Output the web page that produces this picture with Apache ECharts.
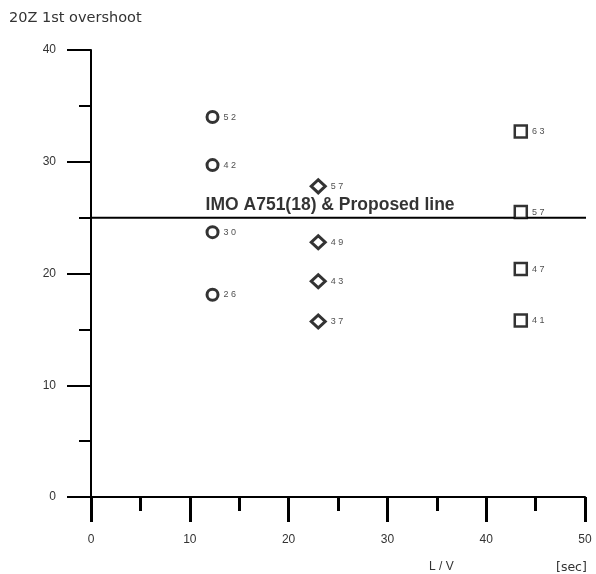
<!DOCTYPE html>
<html>
<head>
<meta charset="utf-8">
<script src="https://cdn.jsdelivr.net/npm/echarts@6/dist/echarts.min.js"></script>
<style>html,body{margin:0;padding:0;background:#fff}#c{width:596px;height:574px}</style>
</head>
<body>
<div id="c"></div>
<script>
// Data
var circleX = [12.3, 12.3, 12.3, 12.3];
var circleY = [34.0, 29.7, 23.7, 18.1];
var circleLabels = ['52', '42', '30', '26'];
var diamondX = [23.0, 23.0, 23.0, 23.0];
var diamondY = [27.8, 22.8, 19.3, 15.7];
var diamondLabels = ['57', '49', '43', '37'];
var squareX = [43.5, 43.5, 43.5, 43.5];
var squareY = [32.7, 25.5, 20.4, 15.8];
var squareLabels = ['63', '57', '47', '41'];
var refLineY = 25;
var refLineX = [0, 50.5];
var refLineLabel = 'IMO A751(18) & Proposed line';
var refLabelX = 11.6;
var xTicks = [0, 10, 20, 30, 40, 50];
var yTicks = [0, 10, 20, 30, 40];

function pts(xs, ys, labels) {
  return xs.map(function (x, i) { return { value: [x, ys[i]], name: labels[i] }; });
}

var chart = echarts.init(document.getElementById('c'), null, { renderer: 'canvas' });
var ptLabel = {
  show: true, position: 'right', distance: 4,
  formatter: function (p) { return p.name.split('').join(' '); },
  fontSize: 9, color: '#222', fontFamily: 'Liberation Sans'
};
var option = {
  backgroundColor: '#fff',
  animation: false,
  title: {
    text: '20Z 1st overshoot', left: 4, top: 6,
    textStyle: { fontFamily: 'DejaVu Sans', fontSize: 14.5, fontWeight: 'normal', color: '#333' }
  },
  grid: { left: 91, right: 11, top: 50, bottom: 77, containLabel: false },
  xAxis: {
    type: 'value', min: xTicks[0], max: xTicks[xTicks.length - 1], interval: 10,
    axisLine: { lineStyle: { color: '#000', width: 2 } },
    axisTick: { length: 25, lineStyle: { color: '#000', width: 3 } },
    minorTick: { show: true, splitNumber: 2, length: 14, lineStyle: { color: '#000', width: 3 } },
    splitLine: { show: false },
    axisLabel: { margin: 37, fontSize: 12, color: '#333', fontFamily: 'Liberation Sans' }
  },
  yAxis: {
    type: 'value', min: yTicks[0], max: yTicks[yTicks.length - 1], interval: 10,
    axisLine: { lineStyle: { color: '#000', width: 2 } },
    axisTick: { length: 24, lineStyle: { color: '#000', width: 2 } },
    minorTick: { show: true, splitNumber: 2, length: 12, lineStyle: { color: '#000', width: 2 } },
    splitLine: { show: false },
    axisLabel: { margin: 35, fontSize: 12, color: '#333', fontFamily: 'Liberation Sans' }
  },
  series: [
    {
      type: 'line', clip: false, symbol: 'none', silent: true,
      data: [[refLineX[0], refLineY], [refLineX[1], refLineY]],
      lineStyle: { color: '#000', width: 2 }, z: 1
    },
    {
      type: 'scatter', symbolSize: 0, clip: false,
      data: [{ value: [refLabelX, refLineY], name: refLineLabel }],
      label: {
        show: true, position: [0, -3], align: 'left', verticalAlign: 'bottom',
        formatter: function (p) { return p.name; },
        fontFamily: 'Liberation Sans', fontWeight: 'bold', fontSize: 17.5, color: '#000'
      }
    },
    {
      type: 'scatter', symbol: 'circle', symbolSize: 11,
      itemStyle: { color: '#fff', borderColor: '#000', borderWidth: 3 },
      data: pts(circleX, circleY, circleLabels), label: ptLabel
    },
    {
      type: 'scatter', symbol: 'diamond', symbolSize: [14, 13],
      itemStyle: { color: '#fff', borderColor: '#000', borderWidth: 3 },
      data: pts(diamondX, diamondY, diamondLabels), label: ptLabel
    },
    {
      type: 'scatter', symbol: 'rect', symbolSize: 12,
      itemStyle: { color: '#fff', borderColor: '#000', borderWidth: 2.5 },
      data: pts(squareX, squareY, squareLabels), label: ptLabel
    }
  ],
  graphic: [
    { type: 'text', left: 429, top: 561, style: { text: 'L / V', fontSize: 12, fill: '#333', fontFamily: 'Liberation Sans' } },
    { type: 'text', left: 556, top: 561, style: { text: '[sec]', fontSize: 12.5, fill: '#333', fontFamily: 'DejaVu Sans' } }
  ]
};
chart.setOption(option);
</script>
</body>
</html>
